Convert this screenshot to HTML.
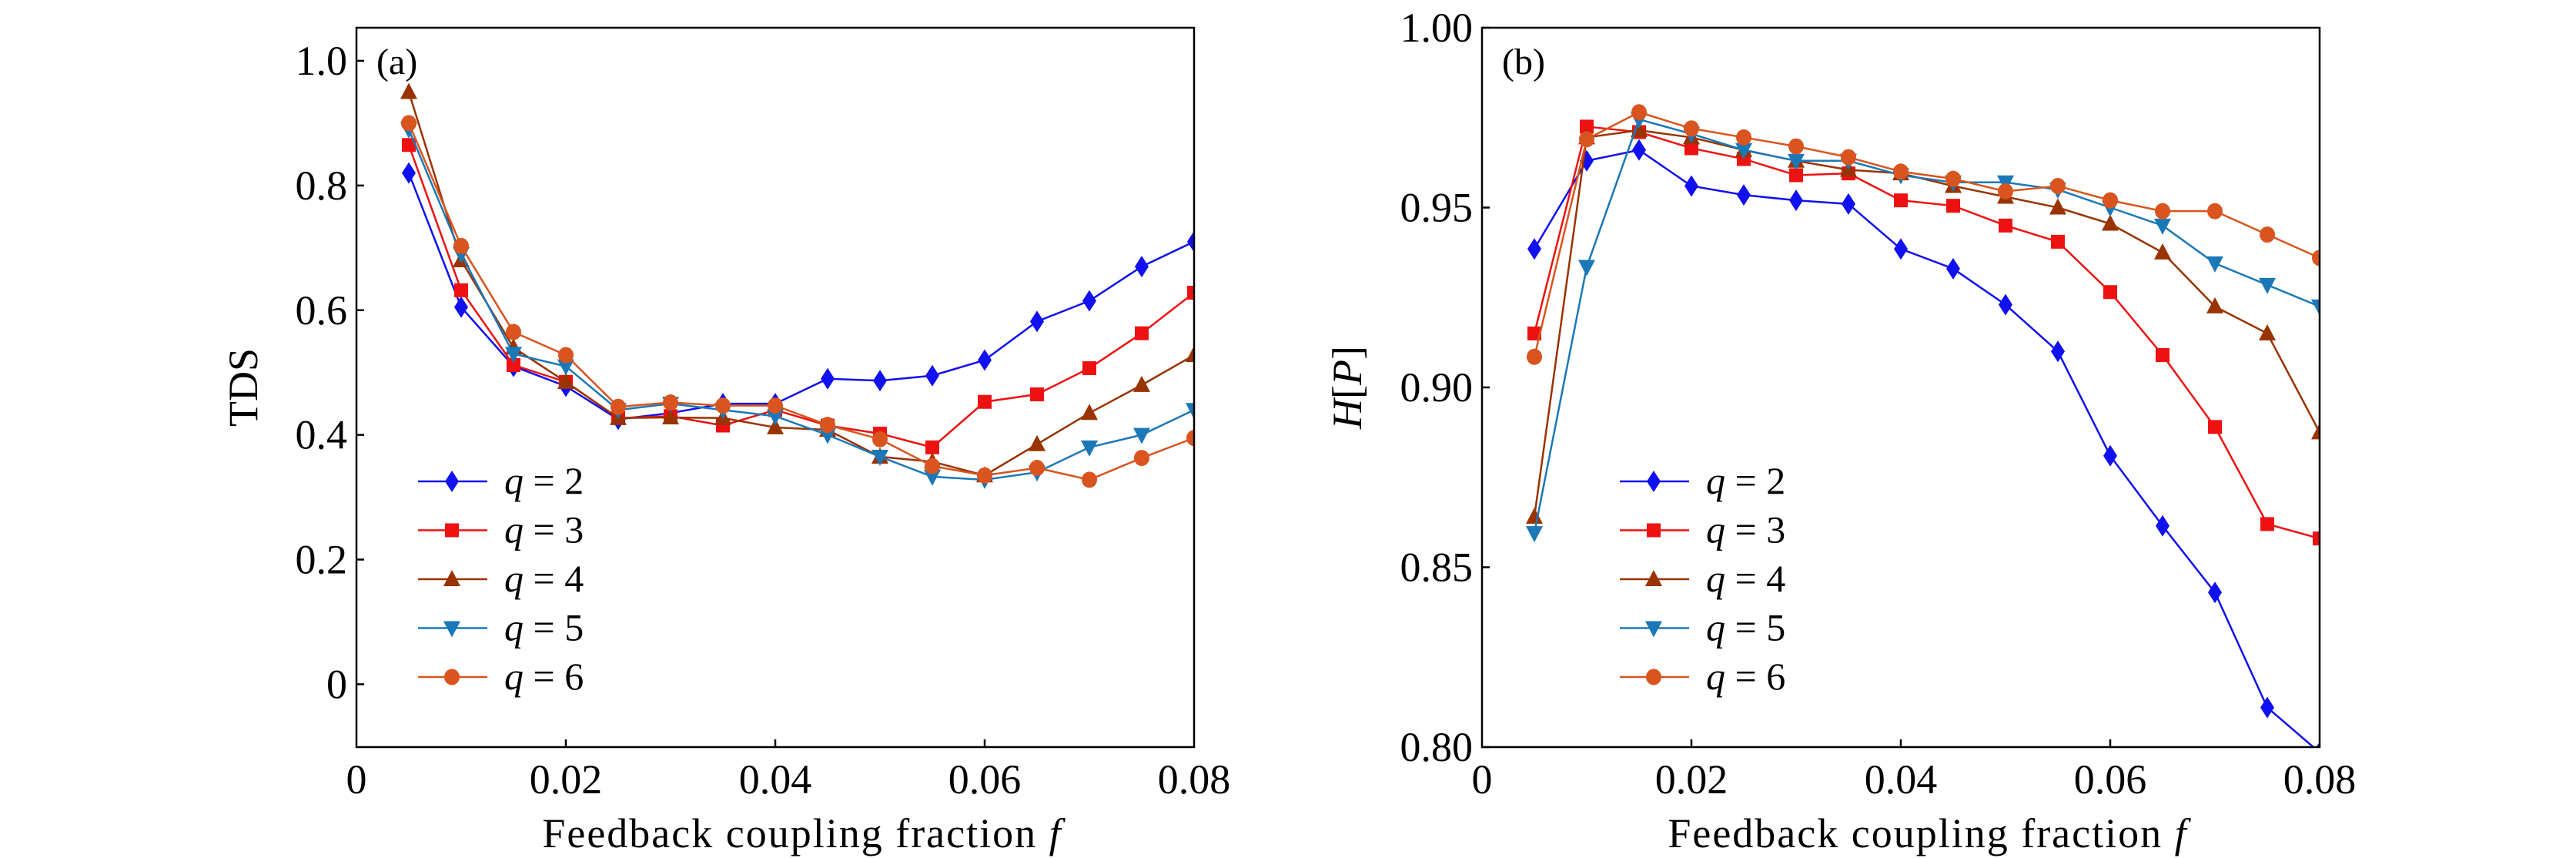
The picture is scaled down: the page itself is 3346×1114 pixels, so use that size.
<!DOCTYPE html>
<html><head><meta charset="utf-8"><style>
html,body{margin:0;padding:0;background:#fff;}
svg{display:block;font-family:"Liberation Serif",serif;}
</style></head><body>
<svg id="chart" width="3346" height="1114" viewBox="0 0 3346 1114" xmlns="http://www.w3.org/2000/svg">
<defs>
<clipPath id="clipA"><rect x="463" y="36" width="1088" height="934"/></clipPath>
<clipPath id="clipB"><rect x="1925" y="36" width="1088" height="934"/></clipPath>
</defs>
</svg>
<script>
const xValues=[0.005,0.01,0.015,0.02,0.025,0.03,0.035,0.04,0.045,0.05,0.055,0.06,0.065,0.07,0.075,0.08];
const seriesNames=["q = 2","q = 3","q = 4","q = 5","q = 6"];
const tdsQ2=[0.82,0.605,0.51,0.478,0.425,0.435,0.45,0.45,0.49,0.487,0.495,0.52,0.582,0.615,0.67,0.71];
const tdsQ3=[0.865,0.632,0.512,0.485,0.427,0.43,0.415,0.44,0.415,0.402,0.38,0.453,0.465,0.507,0.563,0.628];
const tdsQ4=[0.95,0.68,0.54,0.485,0.427,0.428,0.427,0.412,0.408,0.365,0.357,0.335,0.385,0.435,0.48,0.528];
const tdsQ5=[0.89,0.69,0.53,0.51,0.44,0.45,0.44,0.43,0.4,0.365,0.333,0.328,0.34,0.38,0.4,0.44];
const tdsQ6=[0.9,0.703,0.565,0.528,0.445,0.452,0.447,0.447,0.416,0.393,0.35,0.335,0.347,0.328,0.363,0.395];
const hpQ2=[0.9385,0.963,0.966,0.956,0.9535,0.952,0.951,0.9385,0.933,0.923,0.910,0.881,0.8615,0.843,0.811,0.7985];
const hpQ3=[0.915,0.9725,0.971,0.9665,0.9635,0.959,0.9595,0.952,0.9505,0.945,0.9405,0.9265,0.909,0.889,0.862,0.858];
const hpQ4=[0.864,0.9695,0.9715,0.9695,0.966,0.963,0.9605,0.9595,0.956,0.953,0.950,0.9455,0.9375,0.9225,0.915,0.8875];
const hpQ5=[0.8595,0.9335,0.9745,0.9705,0.966,0.963,0.963,0.959,0.957,0.957,0.955,0.950,0.945,0.9345,0.9285,0.9225];
const hpQ6=[0.9085,0.969,0.9765,0.972,0.9695,0.967,0.964,0.960,0.958,0.9545,0.956,0.952,0.949,0.949,0.9425,0.936];
const xTicks=[0,0.02,0.04,0.06,0.08];
const xTickLabels=["0","0.02","0.04","0.06","0.08"];
const yTicksA=[0,0.2,0.4,0.6,0.8,1.0];
const yTickLabelsA=["0","0.2","0.4","0.6","0.8","1.0"];
const yTicksB=[0.80,0.85,0.90,0.95,1.00];
const yTickLabelsB=["0.80","0.85","0.90","0.95","1.00"];

const NS="http://www.w3.org/2000/svg";
const svg=document.getElementById('chart');
const colors=["#1010f0","#ee1111","#993300","#1a78b8","#d9541e"];
const markers=["diamond","square","up","down","circle"];
function el(tag,attrs,parent){const e=document.createElementNS(NS,tag);for(const k in attrs)e.setAttribute(k,attrs[k]);(parent||svg).appendChild(e);return e;}
function marker(type,cx,cy,color,g){
  let m;
  if(type==="diamond")m=el('polygon',{points:`${cx},${cy-14} ${cx+9},${cy} ${cx},${cy+14} ${cx-9},${cy}`,fill:color},g);
  else if(type==="square")m=el('rect',{x:cx-9,y:cy-9,width:18,height:18,fill:color},g);
  else if(type==="up")m=el('polygon',{points:`${cx},${cy-12} ${cx+11},${cy+9} ${cx-11},${cy+9}`,fill:color},g);
  else if(type==="down")m=el('polygon',{points:`${cx},${cy+12} ${cx+11},${cy-9} ${cx-11},${cy-9}`,fill:color},g);
  else m=el('ellipse',{cx:cx,cy:cy,rx:10,ry:10.5,fill:color},g);
  return m;
}
function panel(opt){
  const {L,R,T,B,ymin,ymax,series,yTicks,yLabels,clip,name,legX,legY,tag,ylabel,ylabelX}=opt;
  const sx=v=>L+(v-0)/(0.08)*(R-L);
  const sy=v=>B-(v-ymin)/(ymax-ymin)*(B-T);
  const g=el('g',{});
  
  
  xTicks.forEach((t,i)=>{
    const x=sx(t);
    if(i>0&&i<xTicks.length-1){const tk=el('line',{x1:x,y1:B,x2:x,y2:B-10,stroke:'#000','stroke-width':2.5},g);
      }
    const tl=el('text',{x:x,y:1030,'font-size':54,'text-anchor':'middle'},g);
    tl.textContent=xTickLabels[i];
    
    
  });
  yTicks.forEach((t,i)=>{
    const y=sy(t);
    const tk=el('line',{x1:L,y1:y,x2:L+10,y2:y,stroke:'#000','stroke-width':2.5},g);
    
    const tl=el('text',{x:L-12,y:y+18,'font-size':54,'text-anchor':'end'},g);
    tl.textContent=yLabels[i];
    
    
  });
  const data=el('g',{'clip-path':`url(#${clip})`},g);
  
  
  series.forEach((vals,si)=>{
    const sg=el('g',{},data);
    
    
    const pl=el('polyline',{points:vals.map((v,i)=>sx(xValues[i])+','+sy(v)).join(' '),fill:'none',stroke:colors[si],'stroke-width':2.5},sg);
    
    
    vals.forEach((v,i)=>{
      const m=marker(markers[si],sx(xValues[i]),sy(v),colors[si],sg);
      
      
    });
  });
  const frame=el('rect',{x:L,y:T,width:R-L,height:B-T,fill:'none',stroke:'#000','stroke-width':2.5},g);
  
  
  const lg=el('g',{},g);
  
  
  seriesNames.forEach((n,si)=>{
    const y=legY+si*63.5;
    const ln=el('line',{x1:legX,y1:y,x2:legX+90,y2:y,stroke:colors[si],'stroke-width':2.5},lg);
    
    
    const m=marker(markers[si],legX+44,y,colors[si],lg);
    
    
    const t=el('text',{x:legX+112,y:y+16,'font-size':50},lg);
    t.innerHTML='<tspan font-style="italic">q</tspan> = '+(si+2);
    
    
  });
  const tg=el('text',{x:L+26,y:T+60,'font-size':48},g);
  tg.textContent=tag;
  
  
  const xl=el('text',{x:(L+R)/2+35,y:1100,'font-size':54,'text-anchor':'middle','letter-spacing':2},g);
  xl.innerHTML='Feedback coupling fraction <tspan font-style="italic">f</tspan>';
  
  
  const cy=(T+B)/2;
  const yl=el('text',{x:ylabelX,y:cy,'font-size':54,'text-anchor':'middle',transform:`rotate(-90 ${ylabelX} ${cy})`},g);
  yl.innerHTML=ylabel;
  
  
}
panel({L:463,R:1551,T:36,B:970,ymin:-0.1008,ymax:1.0531,series:[tdsQ2,tdsQ3,tdsQ4,tdsQ5,tdsQ6],yTicks:yTicksA,yLabels:yTickLabelsA,clip:'clipA',name:'panel-a-tds',legX:543,legY:625,tag:'(a)',ylabel:'TDS',ylabelX:334});
panel({L:1925,R:3013,T:36,B:970,ymin:0.80,ymax:1.00,series:[hpQ2,hpQ3,hpQ4,hpQ5,hpQ6],yTicks:yTicksB,yLabels:yTickLabelsB,clip:'clipB',name:'panel-b-entropy',legX:2104,legY:625,tag:'(b)',ylabel:'<tspan font-style="italic">H</tspan>[<tspan font-style="italic">P</tspan>]',ylabelX:1768});
</script>
</body></html>
